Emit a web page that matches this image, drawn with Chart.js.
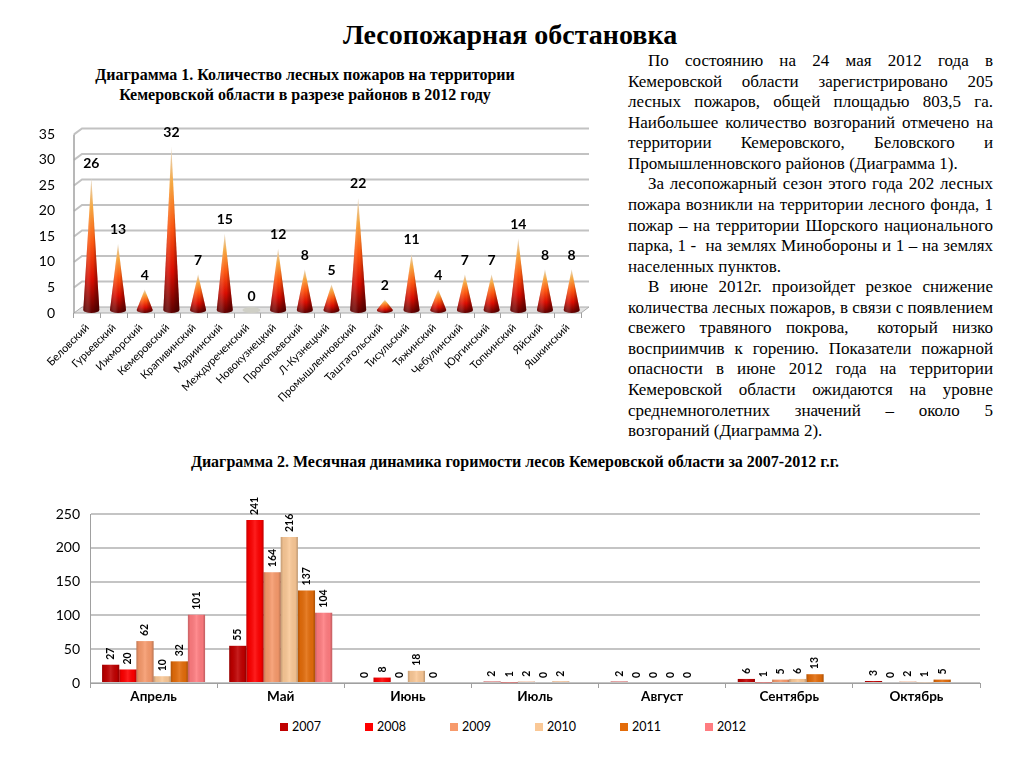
<!DOCTYPE html>
<html><head><meta charset="utf-8">
<script src="https://cdn.jsdelivr.net/npm/chart.js@4.4.1/dist/chart.umd.min.js"></script>
<style>
html,body{margin:0;padding:0;background:#fff;}
body{width:1024px;height:768px;position:relative;overflow:hidden;font-family:"Liberation Serif","Times New Roman",serif;color:#000;}
#title{position:absolute;left:0;width:1020px;top:17px;text-align:center;font-weight:bold;font-size:28px;line-height:36px;}
#h1{position:absolute;left:60px;width:490px;top:65px;text-align:center;font-weight:bold;font-size:16px;line-height:20px;}
#h2{position:absolute;left:0;width:1030px;top:452px;text-align:center;font-weight:bold;font-size:16px;line-height:20px;}
#txt{position:absolute;left:628px;width:365px;top:51px;font-size:17px;line-height:20.56px;}
#txt div{text-align:justify;text-align-last:justify;}
#txt div.i{text-indent:20px;}
#txt div.l{text-align-last:left;}
#c1{position:absolute;left:30px;top:115px;}
#c2{position:absolute;left:30px;top:495px;}
#leg{position:absolute;left:280px;top:719px;display:flex;font-family:Lato,"Open Sans",sans-serif;font-size:12.5px;line-height:16px;}
#leg span.it{display:flex;align-items:center;width:85px;}
#leg span.sq{display:inline-block;width:8px;height:8px;margin-right:4px;}
</style></head>
<body>
<div id="title">Лесопожарная обстановка</div>
<div id="h1">Диаграмма 1. Количество лесных пожаров на территории<br>Кемеровской области в разрезе районов в 2012 году</div>
<div id="txt">
<div class="i">По состоянию на 24 мая 2012 года в</div>
<div>Кемеровской области зарегистрировано 205</div>
<div>лесных пожаров, общей площадью 803,5 га.</div>
<div>Наибольшее количество возгораний отмечено на</div>
<div>территории Кемеровского, Беловского и</div>
<div class="l">Промышленновского районов (Диаграмма 1).</div>
<div class="i">За лесопожарный сезон этого года 202 лесных</div>
<div>пожара возникли на территории лесного фонда, 1</div>
<div>пожар – на территории Шорского национального</div>
<div>парка, 1 -&nbsp; на землях Минобороны и 1 – на землях</div>
<div class="l">населенных пунктов.</div>
<div class="i">В июне 2012г. произойдет резкое снижение</div>
<div>количества лесных пожаров, в связи с появлением</div>
<div>свежего травяного покрова, &nbsp;который низко</div>
<div>восприимчив к горению. Показатели пожарной</div>
<div>опасности в июне 2012 года на территории</div>
<div>Кемеровской области ожидаются на уровне</div>
<div>среднемноголетних значений – около 5</div>
<div class="l">возгораний (Диаграмма 2).</div>
</div>
<div id="h2">Диаграмма 2. Месячная динамика горимости лесов Кемеровской области за 2007-2012 г.г.</div>
<canvas id="c1" width="570" height="292"></canvas>
<canvas id="c2" width="980" height="215"></canvas>
<div id="leg"></div>
<script>
// ---- Data: Diagram 1 ----
const districts = ['Беловский','Гурьевский','Ижморский','Кемеровский','Крапивинский','Мариинский','Междуреченский','Новокузнецкий','Прокопьевский','Л-Кузнецкий','Промышленновский','Таштагольский','Тисульский','Тяжинский','Чебулинский','Юргинский','Топкинский','Яйский','Яшкинский'];
const fires2012 = [26,13,4,32,7,15,0,12,8,5,22,2,11,4,7,7,14,8,8];

// ---- Data: Diagram 2 ----
const months = ['Апрель','Май','Июнь','Июль','Август','Сентябрь','Октябрь'];
const years = ['2007','2008','2009','2010','2011','2012'];
const v2007 = [27,55,0,2,2,6,3];
const v2008 = [20,241,8,1,0,1,0];
const v2009 = [62,164,0,2,0,5,2];
const v2010 = [10,216,18,0,0,6,1];
const v2011 = [32,137,0,2,0,13,5];
const v2012 = [101,104,null,null,null,null,null];
const yearColors = ['#C00000','#FF0000','#F79A6C','#FAC896','#E36C0A','#FF7C80'];

Chart.defaults.font.family = 'Lato, "Open Sans", sans-serif';
Chart.defaults.color = '#000';

const cone3d = {
  id:'cone3d',
  beforeDatasetsDraw(chart){
    const {ctx, chartArea:a, scales:{y}} = chart;
    const dx=8, dy=-6;
    const y0=y.getPixelForValue(0);
    ctx.save();
    ctx.fillStyle='#e2e2e2'; ctx.strokeStyle='#aaaaaa'; ctx.lineWidth=1;
    ctx.beginPath(); ctx.moveTo(a.left,y0); ctx.lineTo(a.left+dx,y0+dy); ctx.lineTo(a.right+dx,y0+dy); ctx.lineTo(a.right,y0); ctx.closePath(); ctx.fill(); ctx.stroke();
    ctx.strokeStyle='#c2c2c2'; ctx.lineWidth=2;
    y.ticks.forEach(t=>{
      if(t.value===0) return;
      const py=y.getPixelForValue(t.value);
      ctx.beginPath(); ctx.moveTo(a.left,py); ctx.lineTo(a.left+dx,py+dy); ctx.lineTo(a.right+dx,py+dy); ctx.stroke();
    });
    ctx.strokeStyle='#a0a0a0'; ctx.lineWidth=1.5;
    ctx.beginPath(); ctx.moveTo(a.left,y.getPixelForValue(y.max)); ctx.lineTo(a.left,y0); ctx.stroke();
    ctx.restore();
  },
  afterDatasetsDraw(chart){
    const {ctx} = chart;
    const meta = chart.getDatasetMeta(0);
    const vals = chart.data.datasets[0].data;
    ctx.save();
    meta.data.forEach((el,i)=>{
      const v = vals[i];
      const cx = el.x+4, base = el.base-3, top = el.y-3, hw=8;
      if(v===0){
        ctx.beginPath(); ctx.ellipse(cx,base,hw+1,3,0,0,Math.PI*2);
        ctx.fillStyle='#cfcfc6'; ctx.fill();
      } else {
        const g = ctx.createLinearGradient(0,top,0,base+3);
        g.addColorStop(0,'#eadfcf'); g.addColorStop(0.22,'#f8a840'); g.addColorStop(0.48,'#ff5810');
        g.addColorStop(0.75,'#dc0c00'); g.addColorStop(1,'#5e0000');
        ctx.beginPath(); ctx.moveTo(cx,top); ctx.lineTo(cx+hw,base);
        ctx.ellipse(cx,base,hw,3,0,0,Math.PI); ctx.closePath();
        ctx.fillStyle=g; ctx.fill();
        const h = ctx.createLinearGradient(cx-hw,0,cx+hw,0);
        h.addColorStop(0,'rgba(70,0,0,0.45)'); h.addColorStop(0.4,'rgba(255,255,255,0.08)');
        h.addColorStop(0.6,'rgba(0,0,0,0)'); h.addColorStop(1,'rgba(60,0,0,0.55)');
        ctx.fillStyle=h; ctx.fill();
      }
      ctx.fillStyle='#000'; ctx.font='bold 14px Lato, "Open Sans", sans-serif';
      ctx.textAlign='center'; ctx.textBaseline='middle';
      ctx.fillText(String(v), cx, top-14);
    });
    ctx.restore();
  }
};

new Chart(document.getElementById('c1'), {
  type:'bar',
  data:{labels:districts, datasets:[{data:fires2012, backgroundColor:'rgba(0,0,0,0)', borderWidth:0}]},
  options:{
    responsive:false, animation:false,
    layout:{padding:{top:16,right:19,left:0,bottom:0}},
    plugins:{legend:{display:false}, tooltip:{enabled:false}},
    scales:{
      x:{grid:{display:true, drawOnChartArea:false, offset:true, tickLength:5, color:'#a0a0a0'},
         border:{display:false},
         ticks:{minRotation:45, maxRotation:45, font:{size:11}, padding:3},
         afterFit:s=>{s.height=94;}},
      y:{min:0, max:35, ticks:{stepSize:5, padding:11, font:{size:14}},
         grid:{display:false}, border:{display:false},
         afterFit:s=>{s.width=44;}}
    }
  },
  plugins:[cone3d]
});

const barShade = {
  id:'barShade',
  afterDatasetsDraw(chart){
    const {ctx} = chart;
    ctx.save();
    chart.data.datasets.forEach((ds,di)=>{
      const meta = chart.getDatasetMeta(di);
      meta.data.forEach((el,i)=>{
        const v = ds.data[i];
        if(v===null || v===undefined) return;
        const l = el.x - el.width/2, w = el.width;
        if(v>0){
          const h = ctx.createLinearGradient(l,0,l+w,0);
          h.addColorStop(0,'rgba(0,0,0,0.22)'); h.addColorStop(0.15,'rgba(0,0,0,0.05)');
          h.addColorStop(0.5,'rgba(255,255,255,0.12)'); h.addColorStop(0.85,'rgba(0,0,0,0.04)');
          h.addColorStop(1,'rgba(0,0,0,0.25)');
          ctx.fillStyle=h; ctx.fillRect(l, el.y, w, el.base-el.y);
        }
        ctx.save();
        ctx.translate(el.x, el.y-5);
        ctx.rotate(-Math.PI/2);
        ctx.fillStyle='#000'; ctx.font='bold 10.5px Lato, "Open Sans", sans-serif';
        ctx.textAlign='left'; ctx.textBaseline='middle';
        ctx.fillText(String(v),0,0);
        ctx.restore();
      });
    });
    ctx.restore();
  }
};

const series = [v2007,v2008,v2009,v2010,v2011,v2012];
new Chart(document.getElementById('c2'), {
  type:'bar',
  data:{labels:months, datasets: years.map((yr,i)=>({label:yr, data:series[i], backgroundColor:yearColors[i], borderWidth:0, categoryPercentage:0.81, barPercentage:1}))},
  options:{
    responsive:false, animation:false,
    layout:{padding:{top:19,right:30,left:0,bottom:0}},
    plugins:{legend:{display:false}, tooltip:{enabled:false}},
    scales:{
      x:{grid:{offset:true, drawOnChartArea:false, tickLength:5, color:'#a0a0a0'},
         border:{color:'#a0a0a0'},
         ticks:{font:{size:13.5, weight:'bold'}, padding:1},
         afterFit:s=>{s.height=27;}},
      y:{min:0, max:250, ticks:{stepSize:50, padding:10, font:{size:14}},
         grid:{color:'#c4c4c4', lineWidth:2, drawTicks:false},
         border:{color:'#a0a0a0'},
         afterFit:s=>{s.width=60;}}
    }
  },
  plugins:[barShade]
});

const leg = document.getElementById('leg');
years.forEach((yr,i)=>{
  const it=document.createElement('span'); it.className='it';
  const sq=document.createElement('span'); sq.className='sq'; sq.style.background=yearColors[i];
  it.appendChild(sq); it.appendChild(document.createTextNode(yr));
  leg.appendChild(it);
});
</script>
</body></html>
